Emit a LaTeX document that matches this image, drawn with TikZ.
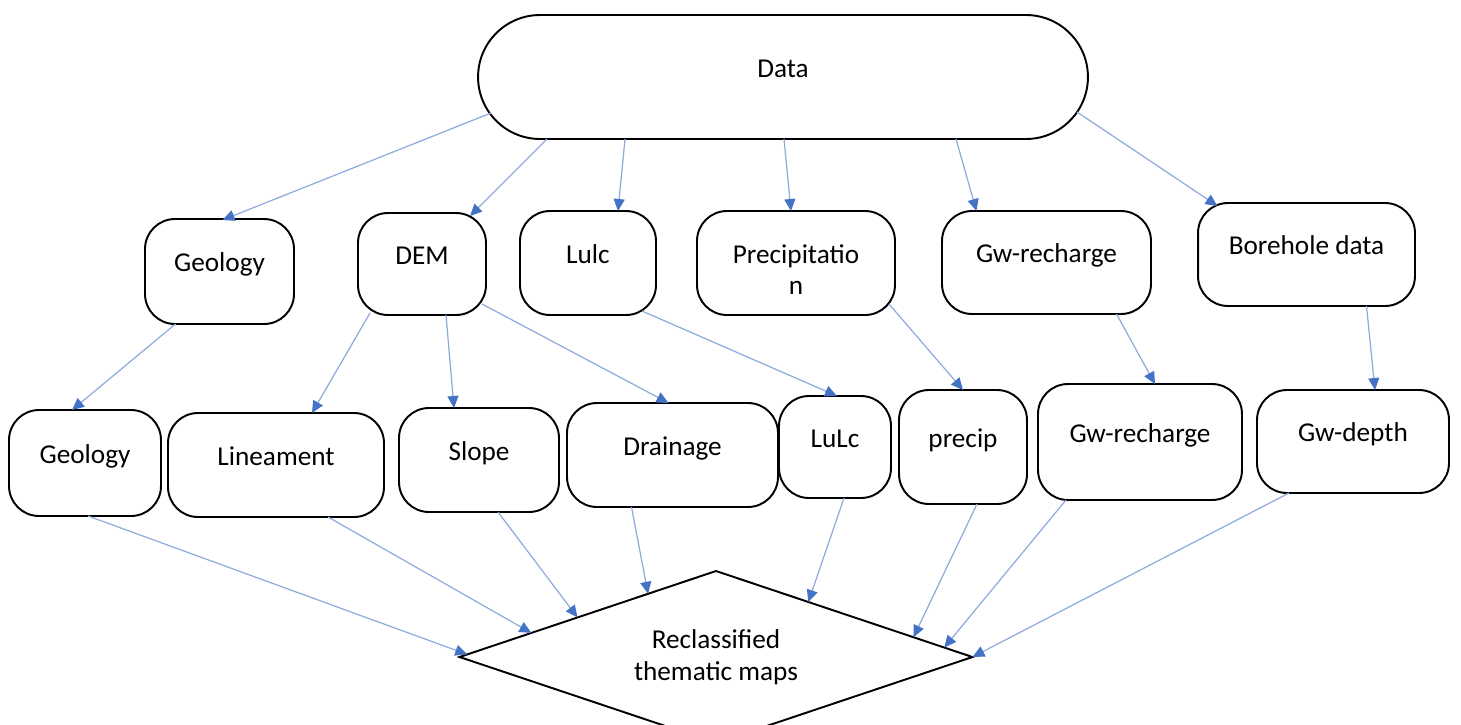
\documentclass[tikz,border=0pt]{standalone}
\usepackage{fontspec}
\setmainfont{Carlito}
\usetikzlibrary{positioning, calc, arrows.meta, shapes}

\definecolor{linkblue}{RGB}{143,170,220}
\definecolor{tipblue}{RGB}{68,114,196}

\begin{document}
\begin{tikzpicture}[
    x=0.02cm, y=-0.02cm,
    font=\fontsize{15.5}{18}\selectfont,
    box/.style={draw=black, line width=1.1pt, rounded corners=0.6cm, inner sep=0pt, outer sep=0pt, text height=0.4cm, text depth=0.4cm},
    source/.style={draw=black, line width=1.1pt, rounded rectangle, inner sep=0pt, outer sep=0pt, minimum width=12.2cm, minimum height=2.48cm, text height=0.4cm, text depth=0.4cm},
    result/.style={draw=black, line width=1.1pt, diamond, aspect=2.98, inner sep=0pt, outer sep=0pt, minimum width=10.26cm, minimum height=3.44cm, align=center},
    arrow/.style={-{Triangle[length=0.24cm, width=0.22cm, color=tipblue]}, draw=linkblue, line width=0.7pt}
]

    \useasboundingbox (0,0) rectangle (1461,724);
    \clip (0,0) rectangle (1461,724);

    % Data
    \node[source] (data) at (783,77) {Data};

    % Input data
    \node[box, minimum width=2.98cm, minimum height=2.1cm] (geology) at (219.5,271.5) {Geology};
    \node[box, minimum width=2.56cm, minimum height=2.04cm] (dem) at (422,264) {DEM};
    \node[box, minimum width=2.72cm, minimum height=2.08cm] (lulc) at (588,263) {Lulc};
    \node[box, minimum width=3.96cm, minimum height=2.08cm] (precipitation) at (796,263) {\vtop{\halign{\hfil#\hfil\cr Precipitatio\cr n\cr}}};
    \node[box, minimum width=4.18cm, minimum height=2.06cm] (recharge) at (1046.5,262.5) {Gw-recharge};
    \node[box, minimum width=4.34cm, minimum height=2.06cm] (borehole) at (1306.5,254.5) {Borehole data};

    % Thematic layers
    \node[box, minimum width=3.04cm, minimum height=2.12cm] (geology-map) at (85,463) {Geology};
    \node[box, minimum width=4.32cm, minimum height=2.08cm] (lineament) at (276,465) {Lineament};
    \node[box, minimum width=3.2cm, minimum height=2.08cm] (slope) at (479,460) {Slope};
    \node[box, minimum width=4.22cm, minimum height=2.08cm] (drainage) at (672.5,455) {Drainage};
    \node[box, minimum width=2.24cm, minimum height=2.04cm] (lulc-map) at (835,447) {LuLc};
    \node[box, minimum width=2.56cm, minimum height=2.28cm] (precip-map) at (963,447) {precip};
    \node[box, minimum width=4.08cm, minimum height=2.32cm] (recharge-map) at (1140,442) {Gw-recharge};
    \node[box, minimum width=3.84cm, minimum height=2.06cm] (depth) at (1353,441.5) {Gw-depth};

    % Output
    \node[result] (maps) at (716,657) {Reclassified\\thematic maps};

    % Connections
    \foreach \dx/\dy/\m/\ex/\ey in {-292/-26/geology/3/1, -236/0/dem/48/3, -158/0/lulc/30/0, 1/0/precipitation/-5/0, 173/0/recharge/-70/0, 294/-27/borehole/-89/3} {
        \draw[arrow] ($(data.south)+(\dx,\dy)$) -- ($(\m.north)+(\ex,\ey)$);
    }

    \foreach \n/\dx/\dy/\m/\ex in {geology/-44/0/geology-map/-13, dem/-52/-2/lineament/36, dem/24/0/slope/-25, dem/60/-11/drainage/-4, lulc/54/-4/lulc-map/2, precipitation/93/-11/precip-map/0, recharge/70/0/recharge-map/15, borehole/60/0/depth/22} {
        \draw[arrow] ($(\n.south)+(\dx,\dy)$) -- ($(\m.north)+(\ex,0)$);
    }

    \foreach \n/\dx/\t in {geology-map/3/0.03, lineament/52/0.28, slope/19/0.46, drainage/-41/0.735} {
        \draw[arrow] ($(\n.south)+(\dx,0)$) -- ($(maps.west)!\t!(maps.north)$);
    }

    \foreach \n/\dx/\t in {lulc-map/9/0.36, precip-map/14/0.77, recharge-map/-74/0.89, depth/-64/1} {
        \draw[arrow] ($(\n.south)+(\dx,0)$) -- ($(maps.north)!\t!(maps.east)$);
    }

\end{tikzpicture}
\end{document}
